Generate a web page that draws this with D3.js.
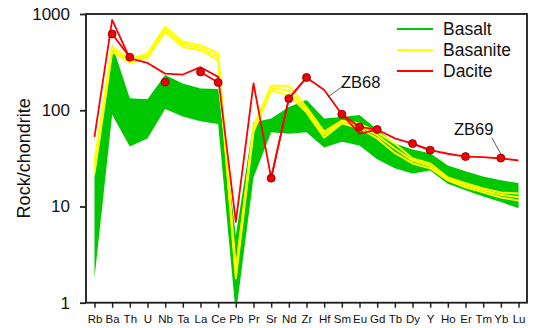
<!DOCTYPE html>
<html>
<head>
<meta charset="utf-8">
<script src="https://cdn.jsdelivr.net/npm/d3@7/dist/d3.min.js"></script>
<style>
  html, body { margin: 0; padding: 0; background: #fff; }
  svg { display: block; font-family: "Liberation Sans", Arial, sans-serif; }
</style>
</head>
<body>
<svg id="chart" width="533" height="328"></svg>
<script>
// Chondrite-normalised trace element patterns
const elements = ["Rb","Ba","Th","U","Nb","Ta","La","Ce","Pb","Pr","Sr","Nd","Zr","Hf","Sm","Eu","Gd","Tb","Dy","Y","Ho","Er","Tm","Yb","Lu"];

// Basalt field (upper and lower envelope)
const basaltMax = [20, 480, 133, 130, 232, 190, 168, 166, 5, 75, 82, 108, 128, 82, 85, 89, 63, 45, 39, 35.7, 26.7, 23.2, 20.5, 18.7, 17.5];
const basaltMin = [1.8, 90, 42, 51, 103, 86, 77, 72, 0.75, 20, 59, 57, 59, 41, 47, 43, 31, 25, 22, 23.7, 17.2, 14.7, 12.7, 11.1, 9.6];

// Basanite samples
const basanite1 = [30, 455, 340, 390, 735, 515, 475, 390, 2.2, 68, 180, 180, 107, 60, 78, 73, 59, 45, 31.5, 28, 20, 17.4, 15.4, 14, 13.6];
const basanite2 = [26, 430, 325, 370, 690, 485, 445, 360, 2.0, 64, 170, 160, 100, 56, 76, 69, 55, 40, 30, 26.5, 19.3, 16.6, 14.7, 13.2, 12.5];
const basanite3 = [22, 405, 310, 350, 650, 455, 420, 330, 1.8, 60, 160, 143, 95, 52, 73, 65, 51, 36, 28, 25, 18.7, 15.8, 14, 12.4, 11.5];

// Dacite samples (ZB69 measured for a subset of elements)
const dacite68 = [53, 870, 345, 310, 240, 235, 280, 222, 6.9, 190, 19.7, 132, 219, 162, 91, 57, 63, 51, 45, 38.5, 35.3, 33, 32.5, 31.5, 30.2];
const dacite69 = [null, 620, 356, null, 196, null, 250, 194, null, null, 19.7, 132, 219, null, 91, 67, 63, null, 45, 38.5, null, 33, null, 31.8, null];

const yTicks = [1, 10, 100, 1000];
const legendItems = [
  {name: "Basalt", color: "#00c800"},
  {name: "Basanite", color: "#ffff00"},
  {name: "Dacite", color: "#ff0000"}
];

const svg = d3.select("#chart");
const plotLeft = 86, plotRight = 527, plotTop = 14, plotBottom = 302.7;

const x = d3.scalePoint().domain(elements).range([plotLeft, plotRight]).padding(0.48);
const y = d3.scaleLog().domain([1, 1000]).range([plotBottom, plotTop]);

svg.append("defs").append("clipPath").attr("id", "plot-clip")
  .append("rect").attr("x", plotLeft).attr("y", plotTop)
  .attr("width", plotRight - plotLeft).attr("height", plotBottom - plotTop);

const plot = svg.append("g").attr("clip-path", "url(#plot-clip)");

// Basalt field
const field = elements.map((e, i) => ({e, lo: basaltMin[i], hi: basaltMax[i]}));
plot.append("path")
  .datum(field)
  .attr("fill", "#00c800")
  .attr("d", d3.area().x(d => x(d.e)).y0(d => y(d.lo)).y1(d => y(d.hi)));

const line = d3.line()
  .defined(d => d.v != null)
  .x(d => x(d.e))
  .y(d => y(d.v));
const toPts = arr => elements.map((e, i) => ({e, v: arr[i]}));

// Basanite lines
[basanite1, basanite2, basanite3].forEach(s => {
  plot.append("path").datum(toPts(s))
    .attr("fill", "none").attr("stroke", "#ffff00")
    .attr("stroke-width", 2).attr("stroke-linejoin", "round")
    .attr("d", line);
});

// Dacite lines
[dacite68, dacite69].forEach(s => {
  plot.append("path").datum(toPts(s))
    .attr("fill", "none").attr("stroke", "#ff0000")
    .attr("stroke-width", 1.8).attr("stroke-linejoin", "round")
    .attr("d", line);
});

// Dacite ZB69 markers
plot.selectAll("circle.zb69")
  .data(toPts(dacite69).filter(d => d.v != null))
  .join("circle")
  .attr("class", "zb69")
  .attr("cx", d => x(d.e)).attr("cy", d => y(d.v))
  .attr("r", 4)
  .attr("fill", "#f00000").attr("stroke", "#7a0000").attr("stroke-width", 0.8);

// Axes
const yAxis = svg.append("g")
  .attr("transform", `translate(${plotLeft},0)`)
  .call(d3.axisLeft(y).tickValues(yTicks).tickFormat(d3.format("d")).tickSize(6).tickPadding(10));
yAxis.select(".domain").remove();
yAxis.selectAll(".tick line").attr("stroke", "#222").attr("stroke-width", 1.8);
yAxis.selectAll(".tick text").attr("font-size", 17).attr("fill", "#111")
  .attr("font-family", "Liberation Sans, Arial, sans-serif");

const xAxis = svg.append("g")
  .attr("transform", `translate(0,${plotBottom})`)
  .call(d3.axisBottom(x).tickSize(5).tickPadding(7));
xAxis.select(".domain").remove();
xAxis.selectAll(".tick line").attr("stroke", "#222").attr("stroke-width", 1.5);
xAxis.selectAll(".tick text").attr("font-size", 11.5).attr("fill", "#111")
  .attr("font-family", "Liberation Sans, Arial, sans-serif");

// Frame
svg.append("rect")
  .attr("x", plotLeft).attr("y", plotTop)
  .attr("width", plotRight - plotLeft).attr("height", plotBottom - plotTop)
  .attr("fill", "none").attr("stroke", "#1a1a1a").attr("stroke-width", 1.8);

// Y axis title
svg.append("text")
  .attr("transform", `translate(30,${(plotTop + plotBottom) / 2}) rotate(-90)`)
  .attr("text-anchor", "middle")
  .attr("font-size", 18).attr("fill", "#111")
  .text("Rock/chondrite");

// Legend
const legend = svg.append("g");
legendItems.forEach((d, i) => {
  const ly = 29 + i * 21;
  legend.append("line")
    .attr("x1", 397).attr("x2", 433).attr("y1", ly).attr("y2", ly)
    .attr("stroke", d.color).attr("stroke-width", 2);
  legend.append("text")
    .attr("x", 443).attr("y", ly + 6)
    .attr("font-size", 17.5).attr("fill", "#111")
    .text(d.name);
});

// Sample labels with leaders
svg.append("line").attr("x1", 343).attr("y1", 86).attr("x2", 328).attr("y2", 97)
  .attr("stroke", "#333").attr("stroke-width", 0.8);
svg.append("text").attr("x", 341).attr("y", 88).attr("font-size", 16.5).attr("fill", "#111").text("ZB68");

svg.append("line").attr("x1", 492).attr("y1", 138).attr("x2", x("Yb")).attr("y2", y(31.8) - 4)
  .attr("stroke", "#333").attr("stroke-width", 0.8);
svg.append("text").attr("x", 454).attr("y", 135).attr("font-size", 16.5).attr("fill", "#111").text("ZB69");
</script>
</body>
</html>
